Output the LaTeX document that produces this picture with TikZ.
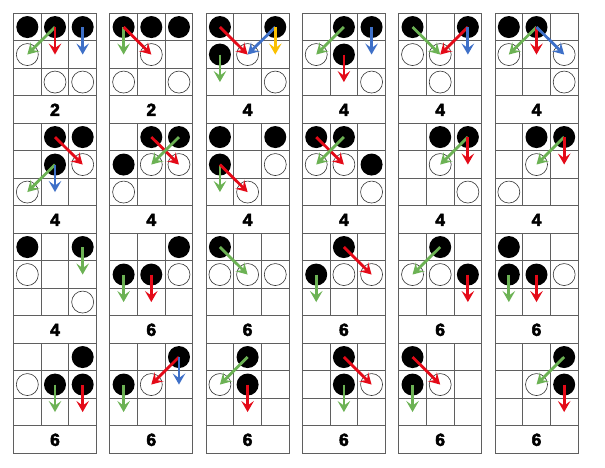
\documentclass[tikz,border=0pt]{standalone}
\usepackage{fontspec}
\setmainfont{Liberation Sans}
\newfontfamily\lblfont{Liberation Sans}[BoldFeatures={FakeBold=3}]
\usetikzlibrary{arrows.meta}
\definecolor{agreen}{RGB}{108,178,84}
\definecolor{ared}{RGB}{228,10,24}
\definecolor{ablue}{RGB}{62,112,200}
\definecolor{ayellow}{RGB}{250,192,0}
\definecolor{gridc}{RGB}{95,95,95}
\tikzset{
  gridline/.style={draw=gridc,line width=0.8pt},
  blk/.style={circle,fill=black,inner sep=0pt,minimum size=22pt},
  wht/.style={circle,draw=black!80,fill=white,line width=0.6pt,inner sep=0pt,minimum size=22pt},
  lbl/.style={font=\lblfont\bfseries\fontsize{17.5}{17.5}\selectfont,inner sep=0pt},
  ar/.style={line width=2.8pt,-{Stealth[length=11pt,width=12.5pt,inset=4.5pt]}},
  arG/.style={ar,draw=agreen},
  arR/.style={ar,draw=ared},
  arB/.style={ar,draw=ablue},
  arY/.style={ar,draw=ayellow}
}
% #1 column, #2 row, #3 name, #4 label, #5 black cells, #6 white cells
\newcommand\gpanel[6]{%
  \begin{scope}[shift={({13.5+96.3*#1},{13.3+110*#2})}]
    \draw[gridline] (0,0) rectangle (83,110);
    \draw[gridline] (0,27.5) -- (83,27.5) (0,55) -- (83,55) (0,82.5) -- (83,82.5);
    \draw[gridline] (27.67,0) -- (27.67,82.5) (55.33,0) -- (55.33,82.5);
    \foreach \rr in {0,1,2}{\foreach \cc in {0,1,2}{%
      \coordinate (#3-\rr\cc) at ({27.67*\cc+13.83},{27.5*\rr+13.75});}}
    \node[lbl] (#3-lab) at (41.5,96.5) {#4};
  \end{scope}
  \foreach \rr/\cc in {#5}{\node[blk] (#3-b\rr\cc) at (#3-\rr\cc) {};}
  \foreach \rr/\cc in {#6}{\node[wht] (#3-w\rr\cc) at (#3-\rr\cc) {};}
}
\begin{document}
\begin{tikzpicture}[x=1pt,y=-1pt]
\useasboundingbox[fill=white] (0,0) rectangle (605,467);
% Row 1
\gpanel{0}{0}{p1}{2}{0/0,0/1,0/2}{1/0,2/1,2/2}
\draw[arG] (p1-01) -- (p1-10); \draw[arR] (p1-01) -- (p1-11); \draw[arB] (p1-02) -- (p1-12);
\gpanel{1}{0}{p2}{2}{0/0,0/1,0/2}{1/1,2/0,2/2}
\draw[arG] (p2-00) -- (p2-10); \draw[arR] (p2-00) -- (p2-11);
\gpanel{2}{0}{p3}{4}{0/0,0/2,1/0}{1/1,2/2}
\draw[arR] (p3-00) -- (p3-11); \draw[arB] (p3-02) -- (p3-11); \draw[arY] (p3-02) -- (p3-12); \draw[arG] (p3-10) -- (p3-20);
\gpanel{3}{0}{p4}{4}{0/1,0/2,1/1}{1/0,2/2}
\draw[arG] (p4-01) -- (p4-10); \draw[arB] (p4-02) -- (p4-12); \draw[arR] (p4-11) -- (p4-21);
\gpanel{4}{0}{p5}{4}{0/0,0/2}{1/0,1/1,2/1}
\draw[arG] (p5-00) -- (p5-11); \draw[arR] (p5-02) -- (p5-11); \draw[arB] (p5-02) -- (p5-12);
\gpanel{5}{0}{p6}{4}{0/0,0/1}{1/0,1/2,2/2}
\draw[arG] (p6-01) -- (p6-10); \draw[arR] (p6-01) -- (p6-11); \draw[arB] (p6-01) -- (p6-12);
% Row 2
\gpanel{0}{1}{p7}{4}{0/1,0/2,1/1}{1/2,2/0}
\draw[arR] (p7-01) -- (p7-12); \draw[arG] (p7-11) -- (p7-20); \draw[arB] (p7-11) -- (p7-21);
\gpanel{1}{1}{p8}{4}{0/1,0/2,1/0}{1/1,1/2,2/0}
\draw[arR] (p8-01) -- (p8-12); \draw[arG] (p8-02) -- (p8-11);
\gpanel{2}{1}{p9}{4}{0/0,0/2,1/0}{1/2,2/1}
\draw[arG] (p9-10) -- (p9-20); \draw[arR] (p9-10) -- (p9-21);
\gpanel{3}{1}{p10}{4}{0/0,0/1,1/2}{1/0,1/1,2/2}
\draw[arR] (p10-00) -- (p10-11); \draw[arG] (p10-01) -- (p10-10);
\gpanel{4}{1}{p11}{4}{0/1,0/2}{1/1,2/2}
\draw[arG] (p11-02) -- (p11-11); \draw[arR] (p11-02) -- (p11-12);
\gpanel{5}{1}{p12}{4}{0/1,0/2}{1/1,2/0}
\draw[arG] (p12-02) -- (p12-11); \draw[arR] (p12-02) -- (p12-12);
% Row 3
\gpanel{0}{2}{p13}{4}{0/0,0/2}{1/0,2/2}
\draw[arG] (p13-02) -- (p13-12);
\gpanel{1}{2}{p14}{6}{0/2,1/0,1/1}{1/2}
\draw[arG] (p14-10) -- (p14-20); \draw[arR] (p14-11) -- (p14-21);
\gpanel{2}{2}{p15}{6}{0/0}{1/0,1/1,1/2}
\draw[arG] (p15-00) -- (p15-11);
\gpanel{3}{2}{p16}{6}{0/1,1/0}{1/1,1/2}
\draw[arR] (p16-01) -- (p16-12); \draw[arG] (p16-10) -- (p16-20);
\gpanel{4}{2}{p17}{6}{0/1,1/2}{1/0,1/1}
\draw[arG] (p17-01) -- (p17-10); \draw[arR] (p17-12) -- (p17-22);
\gpanel{5}{2}{p18}{6}{0/0,1/0,1/1}{1/2}
\draw[arG] (p18-10) -- (p18-20); \draw[arR] (p18-11) -- (p18-21);
% Row 4
\gpanel{0}{3}{p19}{6}{0/2,1/1,1/2}{1/0}
\draw[arG] (p19-11) -- (p19-21); \draw[arR] (p19-12) -- (p19-22);
\gpanel{1}{3}{p20}{6}{0/2,1/0}{1/1}
\draw[arR] (p20-02) -- (p20-11); \draw[arB] (p20-02) -- (p20-12); \draw[arG] (p20-10) -- (p20-20);
\gpanel{2}{3}{p21}{6}{0/1,1/1}{1/0}
\draw[arG] (p21-01) -- (p21-10); \draw[arR] (p21-11) -- (p21-21);
\gpanel{3}{3}{p22}{6}{0/1,1/1}{1/2}
\draw[arR] (p22-01) -- (p22-12); \draw[arG] (p22-11) -- (p22-21);
\gpanel{4}{3}{p23}{6}{0/0,1/0}{1/1}
\draw[arR] (p23-00) -- (p23-11); \draw[arG] (p23-10) -- (p23-20);
\gpanel{5}{3}{p24}{6}{0/2,1/2}{1/1}
\draw[arG] (p24-02) -- (p24-11); \draw[arR] (p24-12) -- (p24-22);
\end{tikzpicture}
\end{document}
